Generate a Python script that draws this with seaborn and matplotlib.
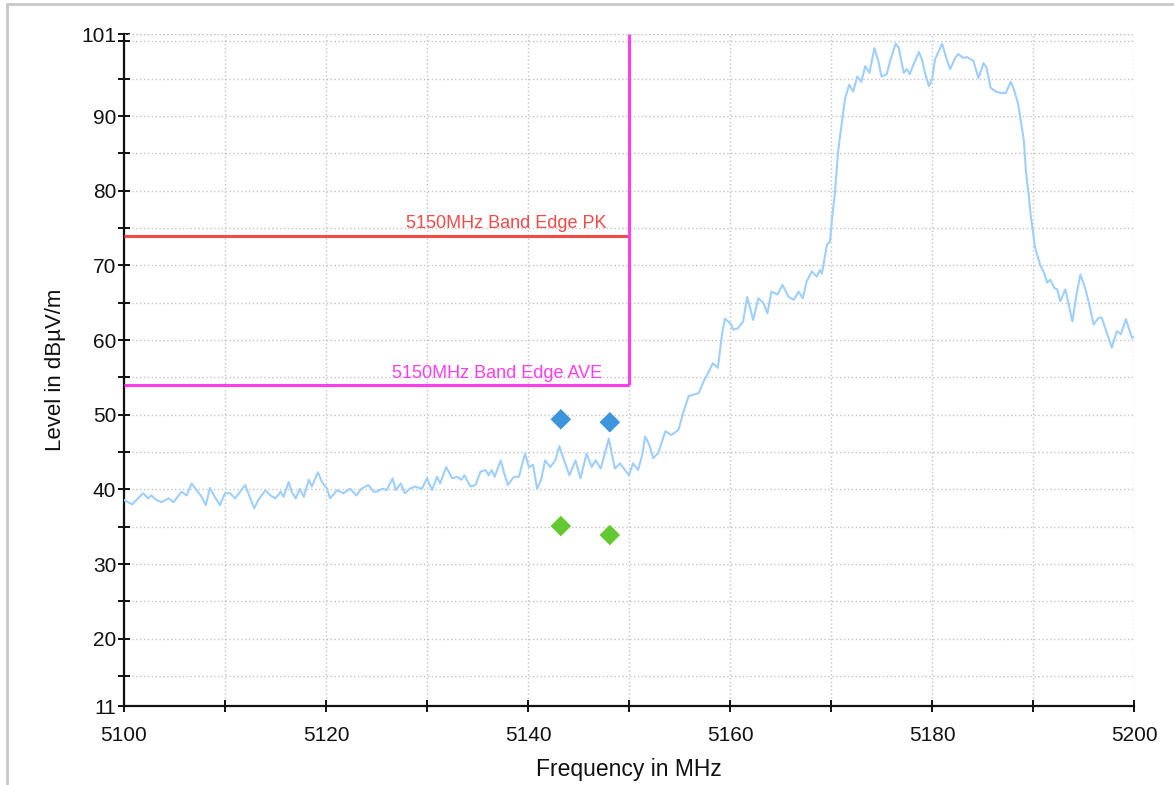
import matplotlib
matplotlib.use("Agg")
import matplotlib.pyplot as plt
from matplotlib.lines import Line2D
import numpy as np
import pandas as pd
import seaborn as sns

# Measured spectrum trace (frequency in MHz, level in dBµV/m)
freq_mhz = [
    5100.0, 5100.8, 5101.9, 5102.4, 5102.7, 5103.2, 5103.7, 5104.4, 5104.9, 5105.7,
    5106.2, 5106.7, 5107.2, 5107.7, 5108.1, 5108.5, 5109.0, 5109.5, 5110.0, 5110.5,
    5111.0, 5112.0, 5112.5, 5112.9, 5113.3, 5114.0, 5114.5, 5115.0, 5115.5, 5115.8,
    5116.3, 5116.6, 5117.0, 5117.4, 5117.8, 5118.3, 5118.6, 5119.2, 5119.6, 5120.1,
    5120.4, 5121.1, 5121.7, 5122.4, 5123.0, 5123.5, 5124.2, 5124.7, 5125.0, 5125.6,
    5126.0, 5126.6, 5126.9, 5127.4, 5127.8, 5128.3, 5128.8, 5129.5, 5130.0, 5130.5,
    5131.0, 5131.3, 5131.9, 5132.5, 5133.0, 5133.4, 5133.7, 5134.3, 5134.8, 5135.3,
    5135.8, 5136.1, 5136.4, 5136.7, 5137.3, 5137.6, 5138.0, 5138.6, 5139.1, 5139.7,
    5140.1, 5140.5, 5140.9, 5141.3, 5141.7, 5142.2, 5142.7, 5143.1, 5143.5, 5144.1,
    5144.7, 5145.2, 5145.8, 5146.3, 5146.7, 5147.2, 5148.0, 5148.6, 5149.1, 5149.5,
    5150.0, 5150.4, 5150.9, 5151.3, 5151.6, 5152.0, 5152.4, 5152.9, 5153.6, 5154.2,
    5154.9, 5155.4, 5155.9, 5156.4, 5156.9, 5157.4, 5157.9, 5158.3, 5158.8, 5159.2,
    5159.5, 5160.1, 5160.3, 5160.8, 5161.3, 5161.7, 5162.3, 5162.8, 5163.3, 5163.7,
    5164.1, 5164.7, 5165.2, 5165.8, 5166.3, 5166.8, 5167.2, 5167.6, 5168.1, 5168.6,
    5168.9, 5169.1, 5169.6, 5169.9, 5170.1, 5170.4, 5170.7, 5171.1, 5171.4, 5171.8,
    5172.2, 5172.6, 5173.0, 5173.4, 5173.8, 5174.3, 5174.7, 5175.0, 5175.5, 5175.9,
    5176.4, 5176.7, 5177.2, 5177.5, 5177.8, 5178.1, 5178.7, 5179.0, 5179.3, 5179.7,
    5180.0, 5180.3, 5181.0, 5181.5, 5181.8, 5182.3, 5182.6, 5183.1, 5183.5, 5184.1,
    5184.6, 5185.1, 5185.4, 5185.8, 5186.3, 5186.8, 5187.3, 5187.8, 5188.1, 5188.5,
    5188.7, 5189.1, 5189.3, 5189.6, 5189.8, 5190.0, 5190.2, 5190.7, 5191.1, 5191.4,
    5191.7, 5192.1, 5192.4, 5192.7, 5193.2, 5193.5, 5193.9, 5194.3, 5194.7, 5195.2,
    5195.6, 5196.0, 5196.5, 5196.8, 5197.3, 5197.8, 5198.3, 5198.7, 5199.2, 5199.8,
    5200.0,
]
level_dbuv = [
    38.6, 38.0, 39.5, 38.8, 39.2, 38.6, 38.3, 38.8, 38.3, 39.7,
    39.2, 40.8, 39.9, 39.0, 37.9, 40.2, 39.0, 37.9, 39.5, 39.5,
    38.8, 40.6, 38.8, 37.5, 38.6, 39.9, 39.2, 38.8, 39.7, 39.0,
    41.0, 39.7, 38.8, 40.1, 39.0, 41.3, 40.4, 42.3, 41.0, 40.1,
    38.8, 39.9, 39.5, 40.1, 39.2, 40.1, 40.6, 39.7, 39.7, 40.1,
    39.9, 41.5, 39.9, 40.8, 39.5, 40.1, 40.4, 40.1, 41.5, 39.9,
    41.7, 40.8, 43.0, 41.5, 41.7, 41.3, 41.9, 40.4, 40.6, 42.4,
    42.6, 41.9, 42.6, 41.7, 43.9, 42.4, 40.6, 41.7, 41.7, 44.8,
    43.0, 43.3, 40.1, 41.3, 43.9, 43.0, 43.9, 45.8, 44.2, 41.9,
    43.9, 41.5, 44.8, 43.0, 43.9, 42.8, 46.8, 42.8, 43.5, 42.8,
    41.9, 43.5, 42.6, 44.6, 47.1, 46.0, 44.2, 44.9, 47.8, 47.3,
    48.0, 50.4, 52.5, 52.7, 52.9, 54.5, 55.8, 56.9, 56.3, 60.7,
    62.9, 62.1, 61.4, 61.6, 62.5, 65.8, 62.7, 65.6, 65.0, 63.6,
    66.5, 66.1, 67.4, 65.8, 65.4, 66.5, 65.6, 67.9, 69.2, 68.5,
    69.4, 68.9, 72.8, 73.2, 76.3, 79.9, 85.3, 89.3, 92.4, 94.2,
    93.3, 95.3, 94.6, 96.7, 95.8, 99.1, 97.3, 95.3, 95.6, 97.6,
    99.7, 99.2, 95.8, 96.3, 95.6, 96.7, 98.6, 97.6, 95.8, 94.0,
    94.9, 97.6, 99.7, 97.4, 96.3, 97.8, 98.3, 97.8, 97.9, 97.4,
    95.1, 97.1, 96.5, 93.8, 93.3, 93.1, 93.1, 94.6, 93.6, 91.8,
    90.2, 86.7, 82.6, 79.1, 76.4, 74.6, 72.4, 70.1, 69.0, 67.7,
    68.1, 67.0, 66.8, 65.2, 66.8, 65.0, 62.5, 66.1, 68.8, 66.8,
    64.6, 62.1, 63.0, 63.0, 61.0, 59.0, 61.2, 60.8, 62.8, 60.3,
    60.5,
]

# Final measurement points
peak_freq = [5143.25, 5148.1]
peak_level = [49.4, 49.0]
avg_freq = [5143.25, 5148.1]
avg_level = [35.1, 33.9]

# Band-edge limits
edge_freq = 5150.0
pk_limit = 74.0
ave_limit = 54.0
pk_label = "5150MHz Band Edge PK"
ave_label = "5150MHz Band Edge AVE"

x_major = [5100, 5120, 5140, 5160, 5180, 5200]
x_minor = [5110, 5130, 5150, 5170, 5190]
y_major = [11, 20, 30, 40, 50, 60, 70, 80, 90, 101]
y_minor = [15, 25, 35, 45, 55, 65, 75, 85, 95, 100]

sns.set_theme(style="white")
plt.rcParams["font.family"] = ["Liberation Sans", "DejaVu Sans"]

fig = plt.figure(figsize=(11.74, 7.85), dpi=100)
ax = fig.add_axes([124 / 1174, 1 - 706 / 785, 1010 / 1174, 672 / 785])

trace = pd.DataFrame({"freq": freq_mhz, "level": level_dbuv})
sns.lineplot(data=trace, x="freq", y="level", ax=ax, color="#9FCFFF",
             linewidth=1.5, sort=False, estimator=None, zorder=3)

# Limit lines
ax.plot([5100, edge_freq], [pk_limit, pk_limit], color="#F44A4A", lw=2.2, zorder=4,
        solid_capstyle="butt")
ax.plot([5100, edge_freq], [ave_limit, ave_limit], color="#FF3FEF", lw=2.2, zorder=4,
        solid_capstyle="butt")
ax.plot([edge_freq, edge_freq], [ave_limit, 101], color="#FF3FEF", lw=2.2, zorder=4,
        solid_capstyle="butt")
ax.text(5147.8, pk_limit + 0.45, pk_label, color="#F44A4A", fontsize=13,
        ha="right", va="bottom", zorder=5)
ax.text(5147.3, ave_limit + 0.45, ave_label, color="#FF3FEF", fontsize=13,
        ha="right", va="bottom", zorder=5)

# Measurement markers
pts = pd.DataFrame({"freq": peak_freq + avg_freq, "level": peak_level + avg_level,
                    "kind": ["PK"] * len(peak_freq) + ["AV"] * len(avg_freq)})
sns.scatterplot(data=pts, x="freq", y="level", hue="kind",
                palette={"PK": "#3D95DC", "AV": "#63C932"}, marker="D", s=110,
                edgecolor="none", legend=False, ax=ax, zorder=6)

ax.set_xlim(5100, 5200)
ax.set_ylim(11, 101)
ax.set_xticks(x_major)
ax.set_xticks(x_minor, minor=True)
ax.set_yticks(y_major)
ax.set_yticks(y_minor, minor=True)
ax.tick_params(axis="both", which="both", direction="inout", color="#111111",
               width=1.4, length=9, labelsize=15, labelcolor="#111111",
               bottom=True, left=True)
ax.tick_params(axis="y", which="major", pad=1)
ax.tick_params(axis="x", which="major", pad=10)

ax.grid(True, which="both", color="#C4C4C4", linestyle=(0, (1.0, 1.8)), linewidth=1.0)
ax.axhline(101, color="#C4C4C4", linestyle=(0, (1.0, 1.8)), linewidth=1.0, zorder=1)
ax.set_axisbelow(True)

for side in ("top", "right"):
    ax.spines[side].set_visible(False)
for side in ("left", "bottom"):
    ax.spines[side].set_color("#111111")
    ax.spines[side].set_linewidth(1.6)

ax.set_xlabel("Frequency in MHz", fontsize=16.5, color="#111111", labelpad=9)
ax.set_ylabel("Level in dBµV/m", fontsize=16, color="#111111", labelpad=11)

# Light frame along the top and left of the canvas
fig.add_artist(Line2D([7 / 1174, 7 / 1174], [0, 1 - 4 / 785], color="#C8C8C8", lw=2,
                      transform=fig.transFigure))
fig.add_artist(Line2D([7 / 1174, 1], [1 - 4 / 785, 1 - 4 / 785], color="#C8C8C8", lw=2,
                      transform=fig.transFigure))

fig.savefig("out.png", dpi=100)
